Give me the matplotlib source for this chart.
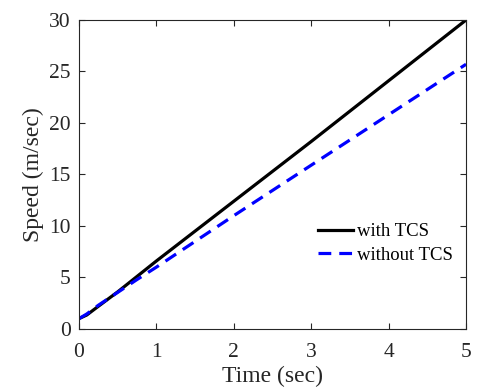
import matplotlib
matplotlib.use("Agg")
import matplotlib.pyplot as plt

# --- data ---
time = [0, 0.1, 0.25, 0.5, 0.75, 1, 2, 3, 4, 5]
speed_tcs = [1.0, 1.35, 2.2, 3.6, 5.1, 6.6, 12.4, 18.2, 24.1, 30.0]
speed_no_tcs = [1.0, 1.45, 2.3, 3.55, 4.8, 6.0, 11.0, 15.9, 20.8, 25.7]

plt.rcParams['font.family'] = ['Liberation Serif', 'DejaVu Serif']

fig = plt.figure(figsize=(4.88, 3.92), dpi=100)
ax = fig.add_axes([0.162, 0.161, 0.793, 0.788])

ax.plot(time, speed_tcs, color='black', lw=2.3, label='with TCS')
ax.plot(time, speed_no_tcs, color='blue', lw=2.3, ls=(0, (4, 2.5)), label='without TCS')

ax.set_xlim(0, 5)
ax.set_ylim(0, 30)
ax.set_xticks(range(0, 6))
ax.set_yticks(range(0, 31, 5))
ax.tick_params(direction='in', top=True, right=True, labelsize=15.5, length=4,
               colors='#262626')
ax.tick_params(axis='x', pad=10)
ax.tick_params(axis='y', pad=6)
for s in ax.spines.values():
    s.set_color('#262626')
ax.set_xlabel('Time (sec)', fontsize=17, labelpad=3, color='#262626')
ax.set_ylabel('Speed (m/sec)', fontsize=17, labelpad=4, color='#262626')

ax.legend(loc='lower right', bbox_to_anchor=(0.995, 0.175), frameon=False,
          fontsize=13.5, handlelength=1.9, handletextpad=0.2, labelspacing=0.32,
          borderaxespad=0.2)

fig.savefig('out.png', dpi=100)
